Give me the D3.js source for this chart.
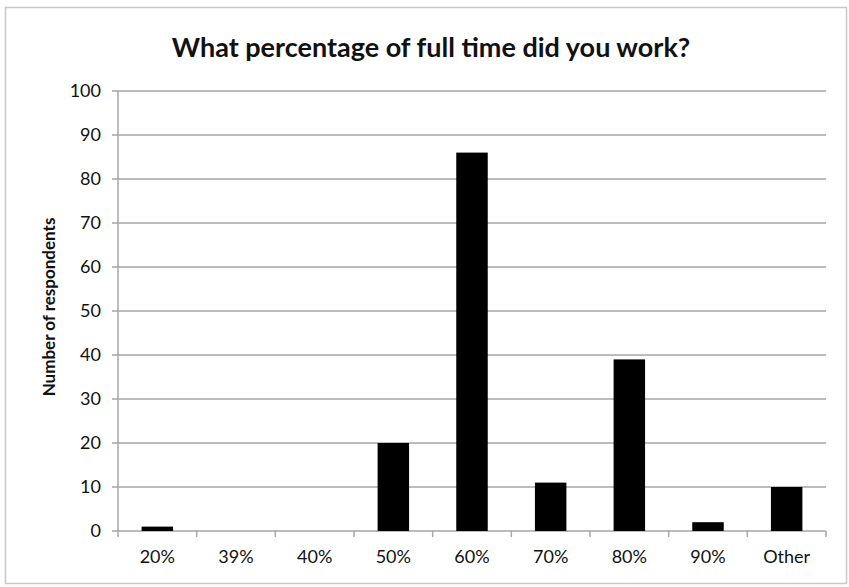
<!DOCTYPE html>
<html>
<head>
<meta charset="utf-8">
<script src="https://cdn.jsdelivr.net/npm/d3@7"></script>
<style>
  body { margin: 0; background: #fff; }
  text { font-family: Lato, 'Open Sans', sans-serif; fill: #111; }
</style>
</head>
<body>
<div id="chart"></div>
<script>
const categories = ['20%', '39%', '40%', '50%', '60%', '70%', '80%', '90%', 'Other']
const respondents = [1, 0, 0, 20, 86, 11, 39, 2, 10]
const yTicks = [0, 10, 20, 30, 40, 50, 60, 70, 80, 90, 100]

const width = 849
const height = 587
const margin = { top: 91, left: 118, right: 23, bottom: 56 }

const svg = d3.select('#chart')
  .append('svg')
  .attr('width', width)
  .attr('height', height)

// outer frame
svg.append('rect')
  .attr('x', 5.5)
  .attr('y', 7.5)
  .attr('width', 841)
  .attr('height', 576)
  .attr('fill', 'white')
  .attr('stroke', '#c8c8c8')
  .attr('stroke-width', 1.5)

const xScale = d3.scaleBand()
  .domain(categories)
  .range([margin.left, width - margin.right])
  .paddingInner(0.6)
  .paddingOuter(0.3)

const yScale = d3.scaleLinear()
  .domain([0, 100])
  .range([height - margin.bottom, margin.top])

// gridlines
svg.append('g')
  .selectAll('line')
  .data(yTicks)
  .enter()
  .append('line')
  .attr('x1', margin.left - 6)
  .attr('x2', width - margin.right)
  .attr('y1', d => yScale(d))
  .attr('y2', d => yScale(d))
  .attr('stroke', '#a6a6a6')
  .attr('stroke-width', 1.5)

// y axis line
svg.append('line')
  .attr('x1', margin.left)
  .attr('x2', margin.left)
  .attr('y1', yScale(100))
  .attr('y2', yScale(0))
  .attr('stroke', '#a6a6a6')
  .attr('stroke-width', 1.5)

// x ticks at band boundaries
const step = xScale.step()
const boundaries = d3.range(categories.length + 1).map(i => margin.left + i * step)
svg.append('g')
  .selectAll('line')
  .data(boundaries)
  .enter()
  .append('line')
  .attr('x1', d => d)
  .attr('x2', d => d)
  .attr('y1', yScale(0))
  .attr('y2', yScale(0) + 6)
  .attr('stroke', '#a6a6a6')
  .attr('stroke-width', 1.5)

// y tick labels
svg.append('g')
  .selectAll('text')
  .data(yTicks)
  .enter()
  .append('text')
  .attr('x', margin.left - 17)
  .attr('y', d => yScale(d))
  .attr('dy', '0.36em')
  .attr('text-anchor', 'end')
  .attr('font-size', 18)
  .text(d => d)

// x tick labels
svg.append('g')
  .selectAll('text')
  .data(categories)
  .enter()
  .append('text')
  .attr('x', d => xScale(d) + xScale.bandwidth() / 2)
  .attr('y', yScale(0) + 32)
  .attr('text-anchor', 'middle')
  .attr('font-size', 18)
  .text(d => d)

// bars
svg.append('g')
  .selectAll('rect')
  .data(respondents)
  .enter()
  .append('rect')
  .attr('x', (d, i) => xScale(categories[i]))
  .attr('y', d => yScale(d))
  .attr('width', xScale.bandwidth())
  .attr('height', d => yScale(0) - yScale(d))
  .attr('fill', '#000')

// title
svg.append('text')
  .attr('x', 431)
  .attr('y', 57)
  .attr('text-anchor', 'middle')
  .attr('font-size', 27)
  .attr('font-weight', 'bold')
  .text('What percentage of full time did you work?')

// y axis title
svg.append('text')
  .attr('transform', `translate(55,${(yScale(0) + yScale(100)) / 2 - 4}) rotate(-90)`)
  .attr('text-anchor', 'middle')
  .attr('font-size', 17)
  .attr('font-weight', 'bold')
  .text('Number of respondents')
</script>
</body>
</html>
